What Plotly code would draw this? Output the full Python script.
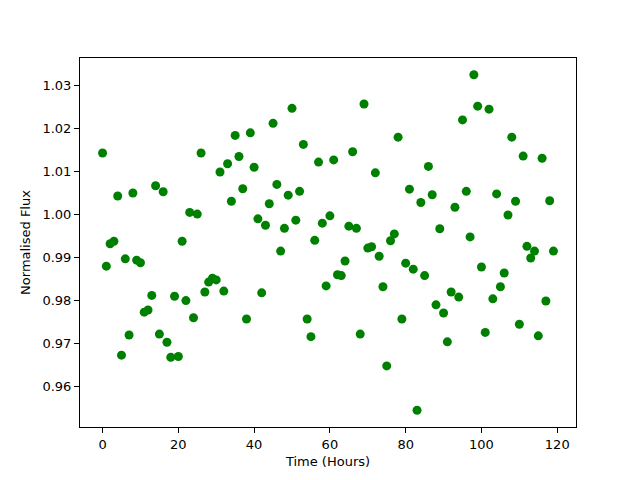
import plotly.graph_objects as go

hours = list(range(120))
flux = [
    1.0143, 0.9880, 0.9932, 0.9938, 1.0043, 0.9673, 0.9897, 0.9720, 1.0050, 0.9894,
    0.9888, 0.9773, 0.9778, 0.9812, 1.0067, 0.9722, 1.0053, 0.9703, 0.9668, 0.9810,
    0.9670, 0.9938, 0.9800, 1.0005, 0.9760, 1.0001, 1.0143, 0.9820, 0.9843, 0.9852,
    0.9848, 1.0099, 0.9822, 1.0118, 1.0031, 1.0184, 1.0135, 1.0060, 0.9757, 1.0190,
    1.0110, 0.9990, 0.9818, 0.9975, 1.0025, 1.0212, 1.0070, 0.9915, 0.9968, 1.0045,
    1.0247, 0.9987, 1.0054, 1.0163, 0.9757, 0.9716, 0.9940, 1.0122, 0.9980, 0.9834,
    0.9997, 1.0127, 0.9860, 0.9858, 0.9892, 0.9973, 1.0146, 0.9968, 0.9722, 1.0257,
    0.9922, 0.9925, 1.0097, 0.9903, 0.9832, 0.9648, 0.9939, 0.9955, 1.0180, 0.9757,
    0.9887, 1.0059, 0.9873, 0.9545, 1.0028, 0.9858, 1.0112, 1.0046, 0.9790, 0.9967,
    0.9771, 0.9704, 0.9820, 1.0017, 0.9808, 1.0220, 1.0054, 0.9948, 1.0325, 1.0252,
    0.9878, 0.9726, 1.0245, 0.9804, 1.0048, 0.9832, 0.9864, 0.9999, 1.0180, 1.0031,
    0.9745, 1.0136, 0.9926, 0.9899, 0.9915, 0.9718, 1.0131, 0.9799, 1.0032, 0.9915,
]
x_ticks = [0, 20, 40, 60, 80, 100, 120]
y_ticks = [0.96, 0.97, 0.98, 0.99, 1.00, 1.01, 1.02, 1.03]

fig = go.Figure(go.Scatter(
    x=hours, y=flux, mode="markers",
    marker=dict(color="#008000", size=9, line=dict(width=0)),
))

axis_common = dict(
    showgrid=False, zeroline=False, showline=True, linecolor="black", linewidth=1,
    mirror=True, ticks="outside", ticklen=5, tickwidth=1, tickcolor="black",
    tickfont=dict(family="DejaVu Sans", size=13, color="black"),
    automargin=False,
)
fig.update_xaxes(range=[-5.95, 124.95], tickvals=x_ticks,
                 ticktext=[str(t) for t in x_ticks],
                 title=dict(text="Time (Hours)", font=dict(family="DejaVu Sans", size=13, color="black"), standoff=6),
                 **axis_common)
fig.update_yaxes(range=[0.9506, 1.0364], tickvals=y_ticks,
                 ticktext=[f"{t:.2f}" for t in y_ticks],
                 title=dict(text="Normalised Flux", font=dict(family="DejaVu Sans", size=13, color="black"), standoff=8),
                 **axis_common)
fig.update_layout(
    width=640, height=480,
    margin=dict(l=72, r=72, t=50, b=61),
    paper_bgcolor="white", plot_bgcolor="white",
    showlegend=False,
)
fig.write_html("out.html")
